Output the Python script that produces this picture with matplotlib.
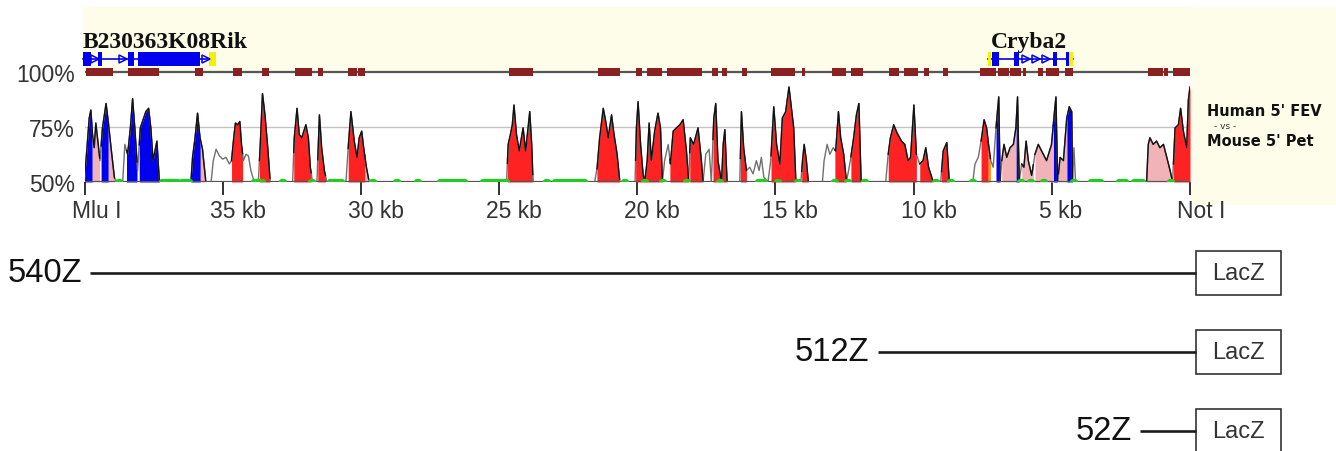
import numpy as np
import matplotlib
matplotlib.use('Agg')
import matplotlib.pyplot as plt
from matplotlib.patches import Rectangle
from matplotlib.transforms import ScaledTranslation

# conservation curve (kb from Not I, percent identity)
curve_kb = [40.01, 39.91, 39.83, 39.77, 39.71, 39.65, 39.59, 39.53, 39.44, 39.35, 39.22, 39.14, 39.04,
            38.92, 38.86, 38.62, 38.54, 38.44, 38.34, 38.26, 38.18, 38.08, 37.98, 37.86, 37.78, 37.68,
            37.60, 37.52, 37.38, 37.29, 36.15, 36.09, 36.00, 35.91, 35.82, 35.73, 35.61, 35.42, 35.34,
            35.24, 35.12, 35.00, 34.88, 34.76, 34.68, 34.60, 34.54, 34.46, 34.38, 34.32, 34.25, 34.16,
            34.07, 33.98, 33.86, 33.71, 33.64, 33.56, 33.47, 33.37, 33.28, 32.47, 32.41, 32.31, 32.23,
            32.14, 31.99, 31.90, 31.83, 31.75, 31.59, 31.50, 31.42, 31.32, 31.23, 30.54, 30.45, 30.36,
            30.24, 30.14, 30.06, 29.97, 29.90, 29.80, 29.70, 24.73, 24.67, 24.59, 24.52, 24.46, 24.37,
            24.27, 24.19, 24.13, 24.04, 23.95, 23.89, 23.82, 23.77, 21.54, 21.45, 21.36, 21.23, 21.14,
            21.05, 20.93, 20.84, 20.73, 20.63, 20.08, 20.03, 19.97, 19.88, 19.79, 19.73, 19.64, 19.57,
            19.49, 19.37, 19.25, 19.16, 19.09, 19.01, 18.88, 18.80, 18.70, 18.58, 18.46, 18.34, 18.22,
            18.14, 18.08, 17.96, 17.80, 17.68, 17.62, 17.52, 17.40, 17.32, 17.23, 17.16, 17.08, 16.95,
            16.89, 16.83, 16.75, 16.29, 16.23, 16.15, 16.05, 15.93, 15.81, 15.69, 15.59, 15.51, 15.42,
            15.27, 15.17, 15.06, 14.96, 14.84, 14.75, 14.63, 14.51, 14.42, 14.34, 14.26, 14.08, 14.02,
            13.96, 13.88, 13.81, 13.30, 13.24, 13.13, 13.03, 12.91, 12.82, 12.72, 12.64, 12.53, 12.43,
            12.29, 12.17, 12.07, 11.98, 11.90, 11.01, 10.92, 10.84, 10.72, 10.60, 10.44, 10.32, 10.20,
            10.11, 9.99, 9.90, 9.78, 9.66, 9.56, 9.46, 9.29, 9.02, 8.93, 8.80, 8.71, 7.86, 7.78, 7.66,
            7.54, 7.45, 7.36, 7.29, 7.21, 7.12, 7.02, 6.92, 6.87, 6.81, 6.73, 6.63, 6.51, 6.39, 6.30,
            6.24, 6.18, 6.09, 6.01, 5.93, 5.85, 5.73, 5.61, 5.49, 5.37, 5.19, 5.01, 4.92, 4.85, 4.79,
            4.70, 4.58, 4.46, 4.37, 4.28, 4.25, 4.20, 4.14, 1.57, 1.51, 1.45, 1.33, 1.21, 1.09, 0.96,
            0.84, 0.72, 0.63, 0.54, 0.42, 0.34, 0.24, 0.12, 0.06, 0.00]
curve_pct = [50, 65.6, 79.0, 82.7, 71.6, 65.6, 76.8, 70.1, 59.7, 74.6, 85.7, 77.5, 65.6,
             52.2, 50, 50, 67.1, 62.6, 74.6, 87.9, 74.6, 55.2, 74.6, 79.0, 82.0, 83.5,
             74.6, 59.7, 68.6, 50, 50, 61.2, 70.1, 81.3, 70.1, 64.9, 50, 50, 59.7,
             64.9, 61.9, 60.4, 61.2, 58.2, 59.7, 70.1, 76.8, 76.0, 77.5, 67.1, 59.7, 62.6,
             61.9, 55.2, 50, 50, 67.1, 90.2, 80.5, 65.6, 50, 50, 70.1, 83.5, 71.6,
             70.1, 76.0, 70.1, 56.7, 50, 50, 80.5, 65.6, 55.2, 50, 50, 67.1, 82.0,
             68.6, 61.2, 70.1, 73.1, 65.6, 56.7, 50, 50, 67.1, 71.6, 76.0, 85.0, 71.6,
             64.1, 70.1, 74.6, 64.1, 74.6, 82.0, 67.1, 50, 50, 56.7, 70.1, 83.5, 77.5,
             70.1, 80.5, 71.6, 62.6, 50, 50, 74.6, 86.5, 67.1, 53.7, 50, 59.7, 76.8,
             59.7, 73.1, 81.3, 74.6, 50, 59.7, 67.1, 58.2, 73.1, 74.6, 76.0, 78.3, 64.1,
             50, 70.1, 67.1, 74.6, 59.7, 50, 62.6, 64.9, 50, 79.0, 85.7, 59.7, 50,
             67.1, 73.8, 50, 50, 82.0, 65.6, 55.2, 56.7, 53.7, 59.7, 55.2, 61.2, 52.2,
             50, 59.7, 84.2, 67.1, 58.2, 79.0, 82.0, 93.2, 83.5, 74.6, 50, 50, 59.7,
             67.1, 59.7, 50, 50, 59.7, 67.1, 62.6, 65.6, 64.1, 82.0, 70.1, 62.6, 50,
             59.7, 70.1, 80.5, 85.7, 50, 50, 62.6, 70.1, 76.0, 72.3, 68.6, 67.1, 59.7,
             61.2, 85.0, 62.6, 58.2, 59.7, 65.6, 56.7, 50, 50, 64.1, 67.9, 50, 50, 58.2, 61.2,
             70.1, 78.3, 74.6, 67.1, 59.7, 56.7, 74.6, 88.7, 50, 59.7, 67.1, 61.2, 65.6, 67.1, 74.6,
             88.7, 50, 58.2, 56.7, 68.6, 59.7, 53.0, 62.6, 67.1, 64.1, 59.7, 67.1, 79.8, 88.7, 50,
             61.2, 59.7, 79.0, 84.2, 82.0, 50, 65.6, 50, 50, 67.1, 70.1, 67.1, 68.6, 65.6, 67.1,
             61.2, 55.2, 50, 74.6, 76.0, 83.5, 73.1, 65.6, 87.2, 93.2]

# annotated stretches under the curve (start kb, end kb)
exon_regions = [(40.01, 39.72), (39.40, 39.14), (38.48, 38.10), (38.02, 37.29), (36.15, 35.81),
                (7.02, 6.87), (6.30, 6.18), (4.95, 4.79), (4.46, 4.25)]
utr_regions = [(39.72, 39.45), (39.14, 38.91), (35.81, 35.61), (29.86, 29.72), (6.81, 6.30),
               (6.09, 5.67), (5.61, 4.95), (4.76, 4.46), (1.57, 0.63)]
cns_regions = [(34.68, 34.28), (33.67, 33.29), (32.43, 31.80), (31.56, 31.28), (30.46, 29.86),
               (24.70, 23.78), (21.46, 20.64), (20.06, 19.09), (18.82, 18.14), (18.10, 17.62),
               (17.26, 16.75), (16.27, 16.05), (15.16, 14.26), (14.05, 13.81), (12.85, 12.43),
               (12.27, 11.90), (10.92, 9.90), (9.78, 9.29), (8.99, 8.71), (7.56, 7.30), (0.60, 0.0)]
other_regions = [(7.30, 7.22)]

# green marks on the 50% line
green_segs = [(38.78, 38.70), (37.21, 36.62), (36.47, 36.19), (33.86, 33.55), (32.85, 32.79),
              (31.81, 31.75), (31.13, 30.69), (29.60, 29.54), (28.73, 28.67), (27.97, 27.91),
              (27.14, 26.24), (25.59, 24.72), (23.30, 23.24), (22.98, 21.90), (20.48, 20.42),
              (19.75, 19.69), (19.10, 19.04), (18.23, 18.17), (17.04, 16.98), (15.64, 15.38),
              (14.94, 14.88), (14.22, 14.16), (12.88, 12.82), (12.41, 12.35), (11.79, 11.73),
              (9.22, 9.16), (8.68, 8.62), (7.88, 7.82), (6.15, 6.09), (5.78, 5.72), (5.31, 5.25),
              (4.23, 4.17), (3.58, 3.22), (2.57, 2.32), (2.03, 1.70), (0.72, 0.66)]

# repeats on the 100% line
repeat_regions = [(39.96, 38.98), (38.44, 37.31), (36.01, 35.72), (34.64, 34.31), (33.59, 33.33),
                  (32.39, 31.78), (31.56, 31.38), (30.47, 30.15), (30.11, 29.86), (24.65, 23.78),
                  (21.43, 20.63), (20.05, 19.83), (19.65, 19.11), (18.93, 17.66), (17.30, 17.08),
                  (16.94, 16.76), (16.21, 16.03), (15.16, 14.30), (14.04, 13.93), (12.96, 12.45),
                  (12.27, 11.83), (10.89, 10.53), (10.35, 9.84), (9.63, 9.45), (8.94, 8.76),
                  (7.60, 7.02), (6.95, 6.55), (6.51, 6.12), (6.04, 5.94), (5.50, 5.32), (5.21, 4.74),
                  (4.52, 4.23), (1.52, 0.98), (0.94, 0.80), (0.62, 0.0)]

# genes
gene_names = ['B230363K08Rik', 'Cryba2']
gene_spans = [(40.06, 35.50), (7.31, 4.23)]
gene_exons = [[(40.06, 39.78), (39.52, 39.38), (38.44, 38.22), (38.07, 35.83)],
              [(7.17, 6.91), (6.37, 6.19), (4.96, 4.81), (4.49, 4.38)]]
gene_utrs = [[(35.50, 35.25)], [(7.31, 7.20), (4.38, 4.23)]]
gene_arrows = [[39.62, 38.62, 35.62], [5.94, 5.57, 5.21]]
gene_label_x = [40.06, 5.83]

tick_kb = [40, 35, 30, 25, 20, 15, 10, 5, 0]
tick_labels = ['Mlu I', '35 kb', '30 kb', '25 kb', '20 kb', '15 kb', '10 kb', '5 kb', 'Not I']

# reporter constructs
construct_names = ['540Z', '512Z', '52Z']
construct_start_kb = [39.8, 11.3, 1.8]

W, H = 1336, 452
def fx(px):
    return px / W
def fy(py):
    return 1 - py / H

plt.rcParams['font.family'] = ['Liberation Sans', 'DejaVu Sans']
fig = plt.figure(figsize=(W / 100, H / 100), dpi=100)
fig.patch.set_facecolor('white')

cream = '#fefde9'
fig.patches.append(Rectangle((fx(83), fy(73)), fx(1336) - fx(83), fy(8) - fy(73),
                             transform=fig.transFigure, color=cream, zorder=-5))
fig.patches.append(Rectangle((fx(1191), fy(205)), fx(1336) - fx(1191), fy(8) - fy(205),
                             transform=fig.transFigure, color=cream, zorder=-5))

left_px, right_px = 84.5, 1190
top_val = 100 + (73 - 8) / 2.2
ax = fig.add_axes([fx(left_px), fy(183), fx(right_px) - fx(left_px), (183 - 8) / H])
ax.set_facecolor('none')
ax.set_xlim(40, 0)
ax.set_ylim(50, top_val)
for s in ax.spines.values():
    s.set_visible(False)

kb = np.array(curve_kb)
pct = np.array(curve_pct)

def region_poly(s, e):
    inside = (kb < s) & (kb > e)
    xs = np.concatenate([[s], kb[inside], [e]])
    ys = np.concatenate([[np.interp(s, kb[::-1], pct[::-1])], pct[inside],
                         [np.interp(e, kb[::-1], pct[::-1])]])
    return xs, ys

ax.axhline(75, color='#c4c4c4', lw=1.0, zorder=1)
ax.plot(kb, pct, color='#707070', lw=1.0, zorder=3)
for regions, col in [(exon_regions, '#0000ee'), (utr_regions, '#f2b3b8'),
                     (cns_regions, '#ff2222'), (other_regions, '#ff9900')]:
    for s, e in regions:
        xs, ys = region_poly(s, e)
        ax.fill_between(xs, 50, ys, color=col, lw=0, zorder=2)
        ax.plot(xs, ys, color='#111111', lw=1.0, zorder=4)

ax.axhline(50, color='#555555', lw=1.6, zorder=5)
ax.hlines([50] * len(green_segs), [g[0] for g in green_segs], [g[1] for g in green_segs],
          color='#22cc22', lw=4.5, zorder=6, capstyle='round')

# repeat track
ax.axhline(100, color='#555555', lw=1.6, zorder=5)
ax.broken_barh([(e, s - e) for s, e in repeat_regions], (100 - 1.8, 3.6),
               facecolor='#8b2020', edgecolor='none', zorder=6)

# genes
gy = 105.9
for name, (gs, ge), exons, utrs, arrows, lx in zip(gene_names, gene_spans, gene_exons,
                                                    gene_utrs, gene_arrows, gene_label_x):
    ax.plot([gs, ge], [gy, gy], color='#0000ee', lw=1.2, zorder=6, clip_on=False)
    ax.broken_barh([(e, s - e) for s, e in exons], (gy - 3.2, 6.4),
                   facecolor='#0000ee', edgecolor='none', zorder=7, clip_on=False)
    ax.broken_barh([(e, s - e) for s, e in utrs], (gy - 3.2, 6.4),
                   facecolor='#f5f000', edgecolor='none', zorder=7, clip_on=False)
    ax.plot(arrows, [gy] * len(arrows), ls='', marker='>', ms=6, mfc='none',
            mec='#0000ee', mew=1.1, zorder=8, clip_on=False)
    ax.text(lx, 111.4, name, ha='left' if name.startswith('B') else 'center', va='baseline',
            fontsize=17, fontweight='bold', family='Liberation Serif', color='#111111')

ax.set_xticks(tick_kb)
ax.set_xticklabels(tick_labels)
ax.set_yticks([50, 75, 100])
ax.set_yticklabels(['50%', '75%', '100%'])
ax.tick_params(axis='x', length=9.5, width=1.3, color='#222222', pad=3,
               labelsize=16.5, labelcolor='#333333')
ax.tick_params(axis='y', length=0, pad=7, labelsize=16.5, labelcolor='#333333')
shift = ScaledTranslation(-0.13, 0, fig.dpi_scale_trans)
for lab in ax.get_xticklabels():
    lab.set_ha('left')
    lab.set_transform(lab.get_transform() + shift)

fig.text(fx(1207), fy(111), "Human 5' FEV", ha='left', va='center', fontsize=10.5,
         fontweight='bold', family='DejaVu Sans', color='#111111')
fig.text(fx(1214), fy(127), "- vs -", ha='left', va='center', fontsize=6.5,
         family='DejaVu Sans', color='#333333')
fig.text(fx(1207), fy(142), "Mouse 5' Pet", ha='left', va='center', fontsize=10.5,
         fontweight='bold', family='DejaVu Sans', color='#111111')

# constructs panel, same kb scale as the plot above
kb_per_px = 40 / (right_px - left_px)
ax2 = fig.add_axes([0, 0, 1, 222 / H])
ax2.set_xlim(40 + left_px * kb_per_px, -(W - right_px) * kb_per_px)
ax2.set_ylim(3 + 20 / 79, 1 - 44 / 79)
ax2.axis('off')
box_l, box_r = -0.22, -3.29
for i, (name, start) in enumerate(zip(construct_names, construct_start_kb)):
    row = i + 1
    ax2.plot([start, box_l], [row, row], color='#1a1a1a', lw=1.9, solid_capstyle='butt')
    ax2.text(start + 0.3, row, name, ha='right', va='center', fontsize=23.5, color='#111111')
    ax2.add_patch(Rectangle((box_r, row - 0.28), box_l - box_r, 0.56, facecolor='white',
                            edgecolor='#333333', lw=1.2, clip_on=False))
    ax2.text((box_l + box_r) / 2, row, 'LacZ', ha='center', va='center', fontsize=17,
             color='#333333')

fig.savefig('out.png', dpi=100)
